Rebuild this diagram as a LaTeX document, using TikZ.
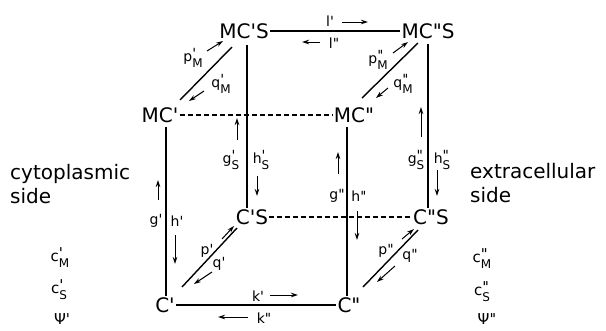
\documentclass[tikz,border=0pt]{standalone}
\usepackage{fontspec}
\setmainfont{DejaVu Sans}[Ligatures=TeXOff]
\usetikzlibrary{arrows.meta}

% single and double prime
\newcommand\pa{'}
\newcommand\pb{'\kern-0.1em'}
% rate constant with prime and subscript
\newcommand\rc[3]{#1\rlap{\raisebox{0.2em}{#2}}\raisebox{-0.4em}{\fontsize{12}{12}\selectfont #3}}

\tikzset{
  state/.style={inner sep=1pt,font=\fontsize{20}{20}\selectfont},
  rate/.style={inner sep=0pt,font=\fontsize{14}{14}\selectfont},
  sidetext/.style={inner sep=0pt,anchor=base west,align=left,font=\fontsize{20}{24}\selectfont},
  conc/.style={inner sep=0pt,font=\fontsize{15}{15}\selectfont},
  edge/.style={line width=1.4pt},
  dashedge/.style={line width=1.2pt,dash pattern=on 5pt off 3pt},
  flux/.style={-{Stealth[length=7pt,width=4.5pt]},line width=1pt},
}

\begin{document}
\begin{tikzpicture}[x=1pt,y=-1pt]
\useasboundingbox (0,0) rectangle (606,330);

% states
\node[state] (mcsa) at (244,31) {MC\pa S};
\node[state] (mcsb) at (428,31) {MC\pb S};
\node[state] (mca) at (160,115) {MC\pa};
\node[state] (mcb) at (354,115) {MC\pb};
\node[state] (csa) at (252,217) {C\pa S};
\node[state] (csb) at (431,217) {C\pb S};
\node[state] (ca) at (165,305) {C\pa};
\node[state] (cb) at (349,305) {C\pb};

% edges of the cube
\draw[edge] (mcsa.east) -- (mcsb.west);
\draw[dashedge] (mca.east) -- (mcb.west);
\draw[dashedge] (csa.east) -- (csb.west);
\draw[edge] (ca.east) -- (cb.west);
\draw[edge] ([shift={(20,-15)}]mca.center) -- ([shift={(-12,16)}]mcsa.center);
\draw[edge] ([shift={(8,-17)}]mcb.center) -- ([shift={(-10,12)}]mcsb.center);
\draw[edge] ([shift={(17,-18)}]ca.center) -- ([shift={(-15,11)}]csa.center);
\draw[edge] ([shift={(14,-18)}]cb.center) -- ([shift={(-13,13)}]csb.center);
\draw[edge] ([shift={(3,14)}]mcsa.center) coordinate (t1) -- (t1 |- csa.north);
\draw[edge] ([shift={(0,13)}]mcsb.center) coordinate (t2) -- (t2 |- csb.north);
\draw[edge] ([shift={(6,12)}]mca.center) coordinate (t3) -- (t3 |- ca.north);
\draw[edge] ([shift={(-7,12)}]mcb.center) coordinate (t4) -- (t4 |- cb.north);

% rate constants
\node[rate] (la) at (330,21) {l\pa};
\draw[flux] (342,22) -- (368,22);
\node[rate] (lb) at (334,43) {l\pb};
\draw[flux] (320,42) -- (302,42);

\node[rate] (pma) at (193,58) {\rc{p}{\pa}{M}};
\draw[flux] (207,51) -- (223,41);
\node[rate] (qma) at (221,84) {\rc{q}{\pa}{M}};
\draw[flux] (204,91) -- (189,101);
\node[rate] (pmb) at (378,60) {\rc{p}{\pb}{M}};
\draw[flux] (393,53) -- (408,42);
\node[rate] (qmb) at (403,84) {\rc{q}{\pb}{M}};
\draw[flux] (388,88) -- (376,98);

\node[rate] (gsa) at (231,160) {\rc{g}{\pa}{S}};
\draw[flux] (237,140) -- (237,118);
\node[rate] (hsa) at (261,160) {\rc{h}{\pa}{S}};
\draw[flux] (257,176) -- (257,196);
\node[rate] (gsb) at (416,160) {\rc{g}{\pb}{S}};
\draw[flux] (421,137) -- (421,107);
\node[rate] (hsb) at (442,160) {\rc{h}{\pb}{S}};
\draw[flux] (437,170) -- (437,196);

\node[rate] (ga) at (156,221) {g\pa};
\draw[flux] (158,200) -- (158,180);
\node[rate] (ha) at (177,221) {h\pa};
\draw[flux] (175,235) -- (175,264);
\node[rate] (gb) at (337,196) {g\pb};
\draw[flux] (338,174) -- (338,152);
\node[rate] (hb) at (359,196) {h\pb};
\draw[flux] (357,211) -- (357,240);

\node[rate] (pa) at (207,251) {p\pa};
\draw[flux] (222,239) -- (234,226);
\node[rate] (qa) at (219,264) {q\pa};
\draw[flux] (212,272) -- (194,284);
\node[rate] (pb) at (386,251) {p\pb};
\draw[flux] (402,239) -- (414,229);
\node[rate] (qb) at (410,256) {q\pb};
\draw[flux] (395,266) -- (377,282);

\node[rate] (ka) at (258,296) {k\pa};
\draw[flux] (270,295) -- (298,295);
\node[rate] (kb) at (264,318) {k\pb};
\draw[flux] (248,317) -- (218,317);

% the two sides
\node[sidetext] (cyto) at (10,203) {cytoplasmic\\side};
\node[sidetext] (extra) at (470,202) {extracellular\\side};
\node[conc] (cma) at (60,258) {\rc{c}{\pa}{M}};
\node[conc] (csa2) at (59,290) {\rc{c}{\pa}{S}};
\node[conc] (psia) at (62,319) {Ψ\pa};
\node[conc] (cmb) at (482,259) {\rc{c}{\pb}{M}};
\node[conc] (csb2) at (482,292) {\rc{c}{\pb}{S}};
\node[conc] (psib) at (487,319) {Ψ\pb};
\end{tikzpicture}
\end{document}
